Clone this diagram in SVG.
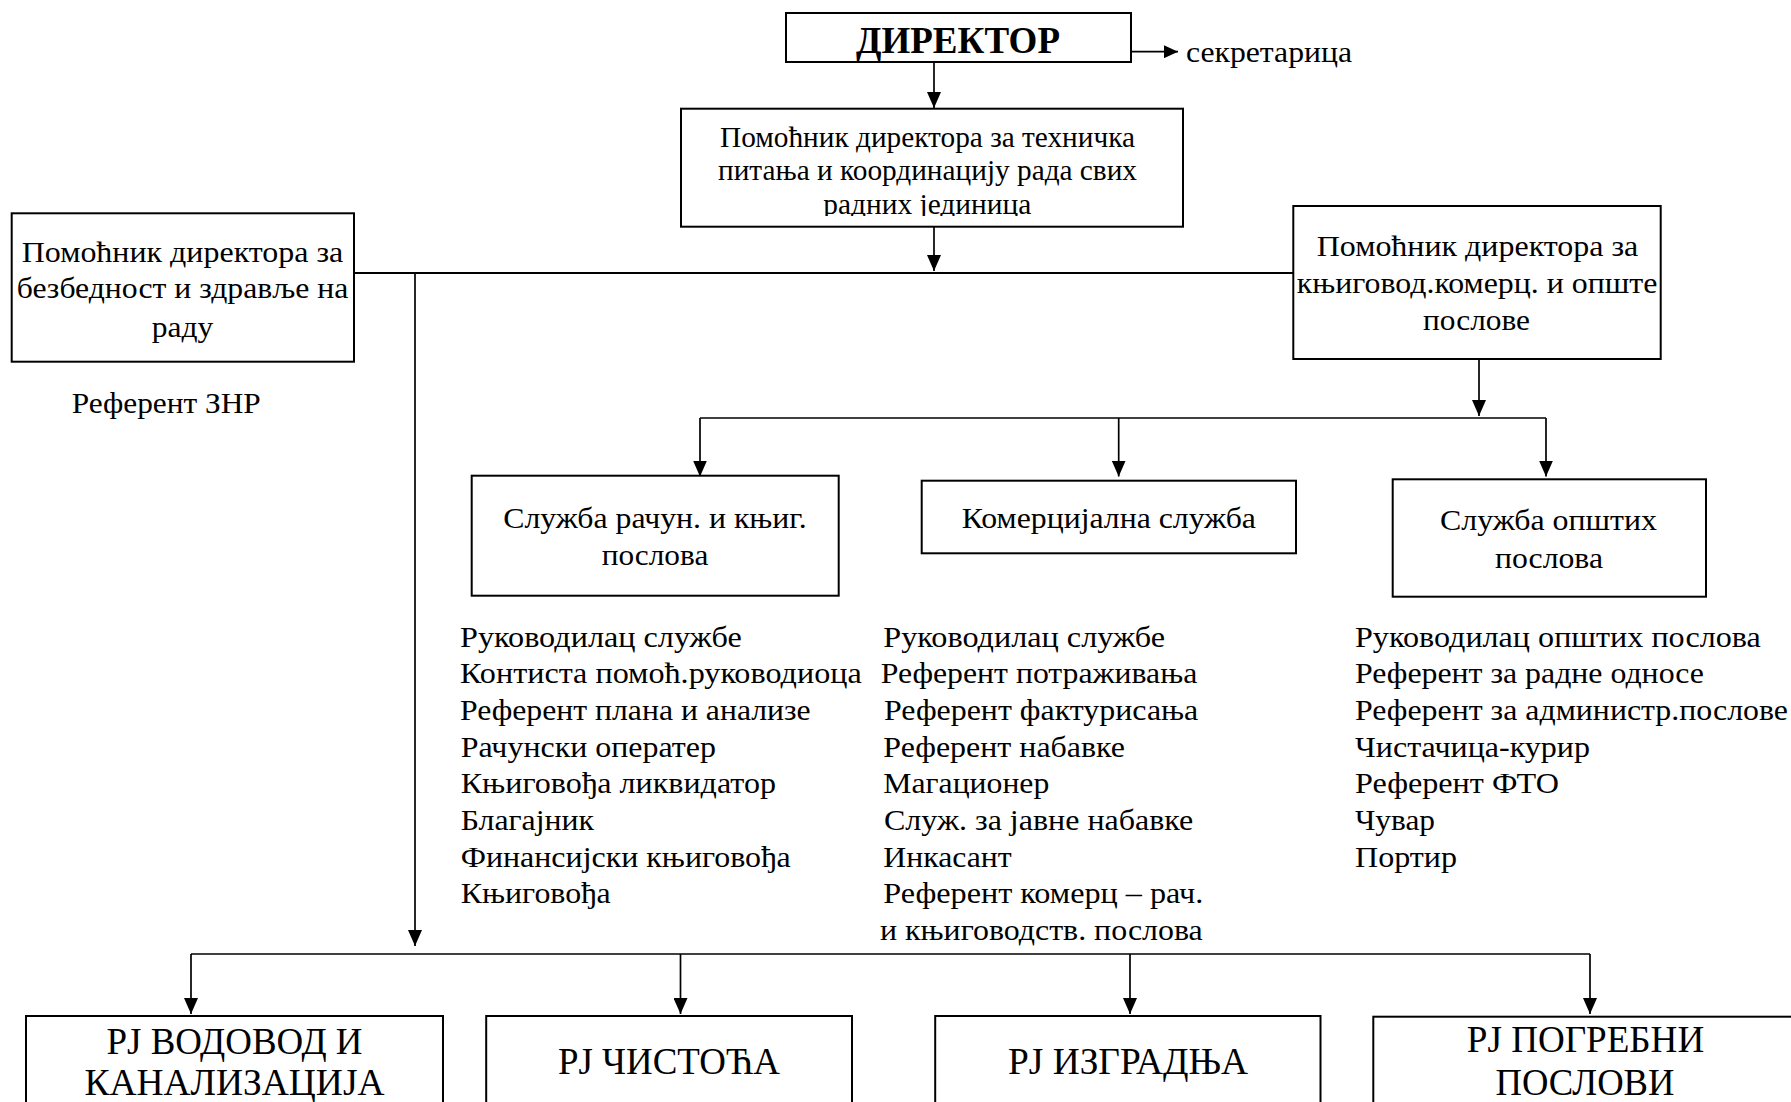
<svg xmlns="http://www.w3.org/2000/svg" width="1791" height="1102" viewBox="0 0 1791 1102">
<style>
.box{fill:#fff;stroke:#000;stroke-width:2}
.t{font-family:"Liberation Serif","Times New Roman",serif;font-size:30px;fill:#000}
.l{font-family:"Liberation Serif","Times New Roman",serif;font-size:29px;fill:#000}
.b{font-family:"Liberation Serif","Times New Roman",serif;font-size:38px;fill:#000;text-anchor:middle}
.h{font-family:"Liberation Serif","Times New Roman",serif;font-size:37px;font-weight:bold;fill:#000}
.c{fill:none;stroke:#000;stroke-width:1.7}
</style>
<defs>
<marker id="arr" viewBox="0 0 16 14" refX="16" refY="7" markerWidth="16" markerHeight="14" markerUnits="userSpaceOnUse" orient="auto">
<path d="M0,0 L16,7 L0,14 z" fill="#000"/>
</marker>
<marker id="arrs" viewBox="0 0 14 13" refX="14" refY="6.5" markerWidth="14" markerHeight="13" markerUnits="userSpaceOnUse" orient="auto">
<path d="M0,0 L14,6.5 L0,13 z" fill="#000"/>
</marker>
<clipPath id="techclip"><rect x="681" y="108" width="502" height="108"/></clipPath>
</defs>
<rect width="1791" height="1102" fill="#fff"/>

<g id="connectors">
<line class="c" x1="934" y1="62" x2="934" y2="108" marker-end="url(#arr)"/>
<line class="c" x1="1131" y1="51.7" x2="1178" y2="51.7" marker-end="url(#arrs)"/>
<line class="c" x1="934" y1="227" x2="934" y2="271" marker-end="url(#arr)"/>
<line class="c" x1="354" y1="273" x2="1294" y2="273" style="stroke-width:2"/>
<line class="c" x1="415" y1="273" x2="415" y2="946" marker-end="url(#arr)"/>
<line class="c" x1="1479" y1="360" x2="1479" y2="416" marker-end="url(#arr)"/>
<line class="c" x1="700" y1="418" x2="1546" y2="418"/>
<line class="c" x1="700" y1="418" x2="700" y2="476.5" marker-end="url(#arr)"/>
<line class="c" x1="1118.7" y1="418" x2="1118.7" y2="476.5" marker-end="url(#arr)"/>
<line class="c" x1="1546" y1="418" x2="1546" y2="476.5" marker-end="url(#arr)"/>
<line class="c" x1="191" y1="954" x2="1590" y2="954"/>
<line class="c" x1="191" y1="954" x2="191" y2="1014" marker-end="url(#arr)"/>
<line class="c" x1="680.5" y1="954" x2="680.5" y2="1014" marker-end="url(#arr)"/>
<line class="c" x1="1130" y1="954" x2="1130" y2="1014" marker-end="url(#arr)"/>
<line class="c" x1="1590" y1="954" x2="1590" y2="1014" marker-end="url(#arr)"/>
</g>

<g id="direktor">
<rect class="box" x="786" y="13" width="345" height="49"/>
<text class="h" x="856" y="52.7" textLength="204" lengthAdjust="spacingAndGlyphs">ДИРЕКТОР</text>
</g>

<g id="sekretarica">
<text class="t" x="1186" y="61.5" textLength="166" lengthAdjust="spacingAndGlyphs">секретарица</text>
</g>

<g id="pomocnik-tehnicka">
<rect class="box" x="681" y="108.7" width="502" height="118"/>
<g clip-path="url(#techclip)">
<text class="t" x="720" y="146.7" textLength="415" lengthAdjust="spacingAndGlyphs">Помоћник директора за техничка</text>
<text class="t" x="718" y="180" textLength="419" lengthAdjust="spacingAndGlyphs">питања и координацију рада свих</text>
<text class="t" x="823.3" y="214" textLength="208" lengthAdjust="spacingAndGlyphs">радних јединица</text>
</g>
</g>

<g id="pomocnik-znr">
<rect class="box" x="11.7" y="213.3" width="342.3" height="148.4"/>
<text class="t" x="21.7" y="261.7" textLength="321.6" lengthAdjust="spacingAndGlyphs">Помоћник директора за</text>
<text class="t" x="16.7" y="298.3" textLength="331.6" lengthAdjust="spacingAndGlyphs">безбедност и здравље на</text>
<text class="t" x="151.7" y="336.7" textLength="61.6" lengthAdjust="spacingAndGlyphs">раду</text>
</g>

<g id="referent-znr">
<text class="t" x="71.7" y="413.3" textLength="189" lengthAdjust="spacingAndGlyphs">Референт ЗНР</text>
</g>

<g id="pomocnik-knjigovod">
<rect class="box" x="1293.3" y="206" width="367.4" height="153"/>
<text class="t" x="1316.7" y="256" textLength="321.6" lengthAdjust="spacingAndGlyphs">Помоћник директора за</text>
<text class="t" x="1296.7" y="293.3" textLength="360.6" lengthAdjust="spacingAndGlyphs">књиговод.комерц. и опште</text>
<text class="t" x="1423" y="330" textLength="107" lengthAdjust="spacingAndGlyphs">послове</text>
</g>

<g id="sluzba-racun">
<rect class="box" x="471.7" y="475.7" width="367" height="120"/>
<text class="t" x="503.3" y="528.3" textLength="303.4" lengthAdjust="spacingAndGlyphs">Служба рачун. и књиг.</text>
<text class="t" x="601.7" y="565" textLength="106.6" lengthAdjust="spacingAndGlyphs">послова</text>
</g>

<g id="komercijalna">
<rect class="box" x="921.7" y="480.7" width="374.3" height="72.6"/>
<text class="t" x="961.7" y="528.3" textLength="294.3" lengthAdjust="spacingAndGlyphs">Комерцијална служба</text>
</g>

<g id="sluzba-opstih">
<rect class="box" x="1392.7" y="479.3" width="313.3" height="117.4"/>
<text class="t" x="1440" y="530" textLength="217" lengthAdjust="spacingAndGlyphs">Служба општих</text>
<text class="t" x="1495" y="568" textLength="108" lengthAdjust="spacingAndGlyphs">послова</text>
</g>

<g id="lista-racun">
<text class="l" x="460" y="646.7" textLength="281.7" lengthAdjust="spacingAndGlyphs">Руководилац службе</text>
<text class="l" x="460" y="683.3" textLength="401.7" lengthAdjust="spacingAndGlyphs">Контиста помоћ.руководиоца</text>
<text class="l" x="460" y="720" textLength="350.7" lengthAdjust="spacingAndGlyphs">Референт плана и анализе</text>
<text class="l" x="460.7" y="756.7" textLength="255.3" lengthAdjust="spacingAndGlyphs">Рачунски оператер</text>
<text class="l" x="460.7" y="793.3" textLength="315.3" lengthAdjust="spacingAndGlyphs">Књиговођа ликвидатор</text>
<text class="l" x="460.7" y="830" textLength="133.3" lengthAdjust="spacingAndGlyphs">Благајник</text>
<text class="l" x="460.7" y="866.7" textLength="330" lengthAdjust="spacingAndGlyphs">Финансијски књиговођа</text>
<text class="l" x="460.7" y="903.3" textLength="150" lengthAdjust="spacingAndGlyphs">Књиговођа</text>
</g>

<g id="lista-komercijalna">
<text class="l" x="883.3" y="646.7" textLength="281.7" lengthAdjust="spacingAndGlyphs">Руководилац службе</text>
<text class="l" x="880.7" y="683.3" textLength="316.6" lengthAdjust="spacingAndGlyphs">Референт потраживања</text>
<text class="l" x="884" y="720" textLength="314.3" lengthAdjust="spacingAndGlyphs">Референт фактурисања</text>
<text class="l" x="883.3" y="756.7" textLength="241.7" lengthAdjust="spacingAndGlyphs">Референт набавке</text>
<text class="l" x="883.3" y="793.3" textLength="166" lengthAdjust="spacingAndGlyphs">Магационер</text>
<text class="l" x="884" y="830" textLength="309.3" lengthAdjust="spacingAndGlyphs">Служ. за јавне набавке</text>
<text class="l" x="883.3" y="866.7" textLength="128.4" lengthAdjust="spacingAndGlyphs">Инкасант</text>
<text class="l" x="883.3" y="903.3" textLength="320" lengthAdjust="spacingAndGlyphs">Референт комерц – рач.</text>
<text class="l" x="880" y="940" textLength="322.7" lengthAdjust="spacingAndGlyphs">и књиговодств. послова</text>
</g>

<g id="lista-opstih">
<text class="l" x="1355" y="646.7" textLength="405.8" lengthAdjust="spacingAndGlyphs">Руководилац општих послова</text>
<text class="l" x="1355" y="683.3" textLength="349" lengthAdjust="spacingAndGlyphs">Референт за радне односе</text>
<text class="l" x="1355" y="720" textLength="433" lengthAdjust="spacingAndGlyphs">Референт за администр.послове</text>
<text class="l" x="1355" y="756.7" textLength="235" lengthAdjust="spacingAndGlyphs">Чистачица-курир</text>
<text class="l" x="1355" y="793.3" textLength="204" lengthAdjust="spacingAndGlyphs">Референт ФТО</text>
<text class="l" x="1355" y="830" textLength="80" lengthAdjust="spacingAndGlyphs">Чувар</text>
<text class="l" x="1355" y="866.7" textLength="102" lengthAdjust="spacingAndGlyphs">Портир</text>
</g>

<g id="rj-vodovod">
<rect class="box" x="26" y="1016" width="417" height="100"/>
<text class="b" x="234.5" y="1053.5" textLength="256" lengthAdjust="spacingAndGlyphs">РЈ ВОДОВОД И</text>
<text class="b" x="234.5" y="1095" textLength="300" lengthAdjust="spacingAndGlyphs">КАНАЛИЗАЦИЈА</text>
</g>

<g id="rj-cistoca">
<rect class="box" x="486.2" y="1016" width="365.8" height="100"/>
<text class="b" x="669" y="1074" textLength="222" lengthAdjust="spacingAndGlyphs">РЈ ЧИСТОЋА</text>
</g>

<g id="rj-izgradnja">
<rect class="box" x="935.2" y="1016" width="385.3" height="100"/>
<text class="b" x="1128" y="1074" textLength="240" lengthAdjust="spacingAndGlyphs">РЈ ИЗГРАДЊА</text>
</g>

<g id="rj-pogrebni">
<rect class="box" x="1373.3" y="1016.7" width="430" height="100"/>
<text class="b" x="1585.5" y="1051.7" textLength="237.3" lengthAdjust="spacingAndGlyphs">РЈ ПОГРЕБНИ</text>
<text class="b" x="1585" y="1095" textLength="179" lengthAdjust="spacingAndGlyphs">ПОСЛОВИ</text>
</g>
</svg>
